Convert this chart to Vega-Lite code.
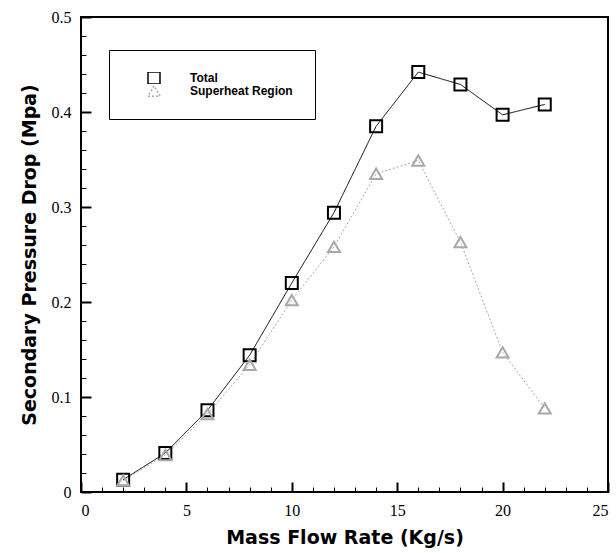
{
  "$schema": "https://vega.github.io/schema/vega-lite/v6.json",
  "width": 527,
  "height": 475,
  "autosize": {"type": "none"},
  "padding": {"left": 81, "top": 17, "right": 8, "bottom": 61},
  "background": "white",
  "config": {
    "view": {"stroke": "black", "strokeWidth": 2},
    "axis": {"grid": false, "domain": false, "tickColor": "black", "labelColor": "black", "titleColor": "black"}
  },
  "data": {
    "values": [
      {"series": "Total", "x": 2, "y": 0.013},
      {"series": "Total", "x": 4, "y": 0.041},
      {"series": "Total", "x": 6, "y": 0.086},
      {"series": "Total", "x": 8, "y": 0.144},
      {"series": "Total", "x": 10, "y": 0.220},
      {"series": "Total", "x": 12, "y": 0.294},
      {"series": "Total", "x": 14, "y": 0.385},
      {"series": "Total", "x": 16, "y": 0.442},
      {"series": "Total", "x": 18, "y": 0.429},
      {"series": "Total", "x": 20, "y": 0.397},
      {"series": "Total", "x": 22, "y": 0.408},
      {"series": "Superheat Region", "x": 2, "y": 0.012},
      {"series": "Superheat Region", "x": 4, "y": 0.039},
      {"series": "Superheat Region", "x": 6, "y": 0.082},
      {"series": "Superheat Region", "x": 8, "y": 0.134},
      {"series": "Superheat Region", "x": 10, "y": 0.202},
      {"series": "Superheat Region", "x": 12, "y": 0.258},
      {"series": "Superheat Region", "x": 14, "y": 0.335},
      {"series": "Superheat Region", "x": 16, "y": 0.349},
      {"series": "Superheat Region", "x": 18, "y": 0.263},
      {"series": "Superheat Region", "x": 20, "y": 0.147},
      {"series": "Superheat Region", "x": 22, "y": 0.088}
    ]
  },
  "layer": [
    {
      "mark": {"type": "line", "strokeWidth": 1},
      "encoding": {
        "x": {
          "field": "x", "type": "quantitative",
          "scale": {"domain": [0, 25], "nice": false},
          "axis": {"orient": "bottom", "values": [0,1,2,3,4,5,6,7,8,9,10,11,12,13,14,15,16,17,18,19,20,21,22,23,24,25], "tickSize": -5, "tickWidth": 1, "labels": false, "title": null}
        },
        "y": {
          "field": "y", "type": "quantitative",
          "scale": {"domain": [0, 0.5], "nice": false},
          "axis": {"orient": "left", "values": [0,0.02,0.04,0.06,0.08,0.1,0.12,0.14,0.16,0.18,0.2,0.22,0.24,0.26,0.28,0.3,0.32,0.34,0.36,0.38,0.4,0.42,0.44,0.46,0.48,0.5], "tickSize": -5, "tickWidth": 1, "labels": false, "title": null}
        },
        "color": {
          "field": "series", "type": "nominal",
          "scale": {"domain": ["Total", "Superheat Region"], "range": ["#000000", "#a8a8a8"]},
          "legend": {
            "title": null, "orient": "none", "legendX": 28, "legendY": 33,
            "padding": 22, "strokeColor": "black",
            "symbolSize": 144, "symbolStrokeWidth": 1.5, "symbolOffset": 16, "labelOffset": 29,
            "rowPadding": 1, "clipHeight": 12,
            "labelFont": "Liberation Sans", "labelFontWeight": "bold", "labelFontSize": 12, "labelColor": "black"
          }
        },
        "strokeDash": {
          "field": "series", "type": "nominal",
          "scale": {"domain": ["Total", "Superheat Region"], "range": [[1, 0], [2, 2]]},
          "legend": null
        }
      }
    },
    {
      "mark": {"type": "point", "filled": false, "size": 144, "strokeWidth": 2, "opacity": 1},
      "encoding": {
        "x": {
          "field": "x", "type": "quantitative",
          "axis": {"orient": "bottom", "values": [0, 5, 10, 15, 20, 25], "tickSize": -10, "tickWidth": 2, "labelPadding": 20,
            "labelFont": "Liberation Sans Narrow", "labelFontSize": 16,
            "title": "Mass Flow Rate (Kg/s)", "titleFont": "DejaVu Sans", "titleFontWeight": "bold", "titleFontSize": 19, "titlePadding": 10}
        },
        "y": {
          "field": "y", "type": "quantitative",
          "axis": {"orient": "left", "values": [0, 0.1, 0.2, 0.3, 0.4, 0.5], "format": ".1~f", "tickSize": -10, "tickWidth": 2, "labelPadding": 20,
            "labelFont": "Liberation Sans Narrow", "labelFontSize": 16,
            "title": "Secondary Pressure Drop (Mpa)", "titleFont": "DejaVu Sans", "titleFontWeight": "bold", "titleFontSize": 19, "titlePadding": 12}
        },
        "shape": {
          "field": "series", "type": "nominal",
          "scale": {"domain": ["Total", "Superheat Region"], "range": ["square", "triangle-up"]},
          "legend": null
        },
        "color": {"field": "series", "type": "nominal"}
      }
    }
  ],
  "resolve": {"axis": {"x": "independent", "y": "independent"}}
}
